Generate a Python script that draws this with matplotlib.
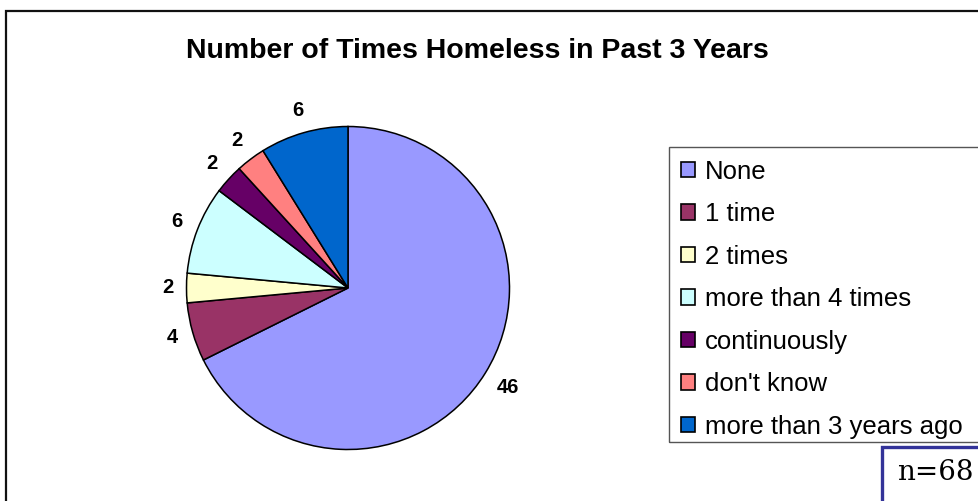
import numpy as np
import matplotlib
matplotlib.use("Agg")
import matplotlib.pyplot as plt
from matplotlib.patches import Rectangle

plt.rcParams['font.family'] = ['Liberation Sans', 'DejaVu Sans']

title = "Number of Times Homeless in Past 3 Years"
categories = ["None", "1 time", "2 times", "more than 4 times",
              "continuously", "don't know", "more than 3 years ago"]
counts = [46, 4, 2, 6, 2, 2, 6]
colors = ["#9999FF", "#993366", "#FFFFCC", "#CCFFFF",
          "#660066", "#FF8080", "#0066CC"]
sample_note = "n=68"

W, H = 979, 501
fig = plt.figure(figsize=(W / 100, H / 100), dpi=100)


def px_rect(x0, y0, x1, y1, **kw):
    """Rectangle given in pixel coords (origin top-left)."""
    return Rectangle((x0 / W, 1 - y1 / H), (x1 - x0) / W, (y1 - y0) / H,
                     transform=fig.transFigure, fill=False, clip_on=False,
                     **kw)


# outer chart frame (runs past the right and bottom edges)
fig.patches.append(px_rect(6, 11, 1100, 560, edgecolor="#111111",
                           linewidth=1.6))

# pie axes: centre at (348, 288) px, radius 161.5 px
cx, cy, r = 348, 288, 161.5
half = 1.3
size = half * r
ax = fig.add_axes([(cx - size) / W, (H - cy - size) / H,
                   2 * size / W, 2 * size / H])

total = sum(counts)
wedges, _, autotexts = ax.pie(
    counts, colors=colors, startangle=90, counterclock=False,
    radius=1.0, labels=None,
    autopct=lambda p: f"{round(p * total / 100)}", pctdistance=1.14,
    wedgeprops=dict(edgecolor="black", linewidth=1.1),
    textprops=dict(fontsize=14.5, fontweight="bold", color="black"))

# push each value label just outside the rim, allowing for its text size
gap, half_h, half_w_digit = 14.0, 8.0, 5.0
for w, t in zip(wedges, autotexts):
    theta = np.deg2rad((w.theta1 + w.theta2) / 2)
    hw = half_w_digit * len(t.get_text())
    d = (r + gap + hw * abs(np.cos(theta)) + half_h * abs(np.sin(theta))) / r
    t.set_position((d * np.cos(theta), d * np.sin(theta)))
    t.set_clip_on(False)

ax.set_xlim(-half, half)
ax.set_ylim(-half, half)
ax.set_aspect("equal")
ax.axis("off")

fig.text(477 / W, 1 - 51 / H, title, ha="center", va="center",
         fontsize=20.5, fontweight="bold")

# legend box and entries
fig.patches.append(px_rect(669, 147, 1100, 442, edgecolor="#555555",
                           linewidth=1.0))
leg = fig.legend(wedges, categories, loc="upper left",
                 bbox_to_anchor=(669 / W, 1 - 148 / H), frameon=False,
                 fontsize=18.5, handlelength=0.58, handleheight=0.58,
                 handletextpad=0.38, labelspacing=0.72, borderpad=0.45,
                 borderaxespad=0)
for h in leg.legend_handles:
    h.set_edgecolor("black")
    h.set_linewidth(1.2)

# sample-size box
fig.patches.append(px_rect(882, 447, 1100, 560, edgecolor="#333399",
                           linewidth=2.4))
fig.text(897 / W, 1 - 472 / H, sample_note, ha="left", va="center",
         fontsize=20, family="DejaVu Serif")

fig.savefig("out.png", dpi=100)
